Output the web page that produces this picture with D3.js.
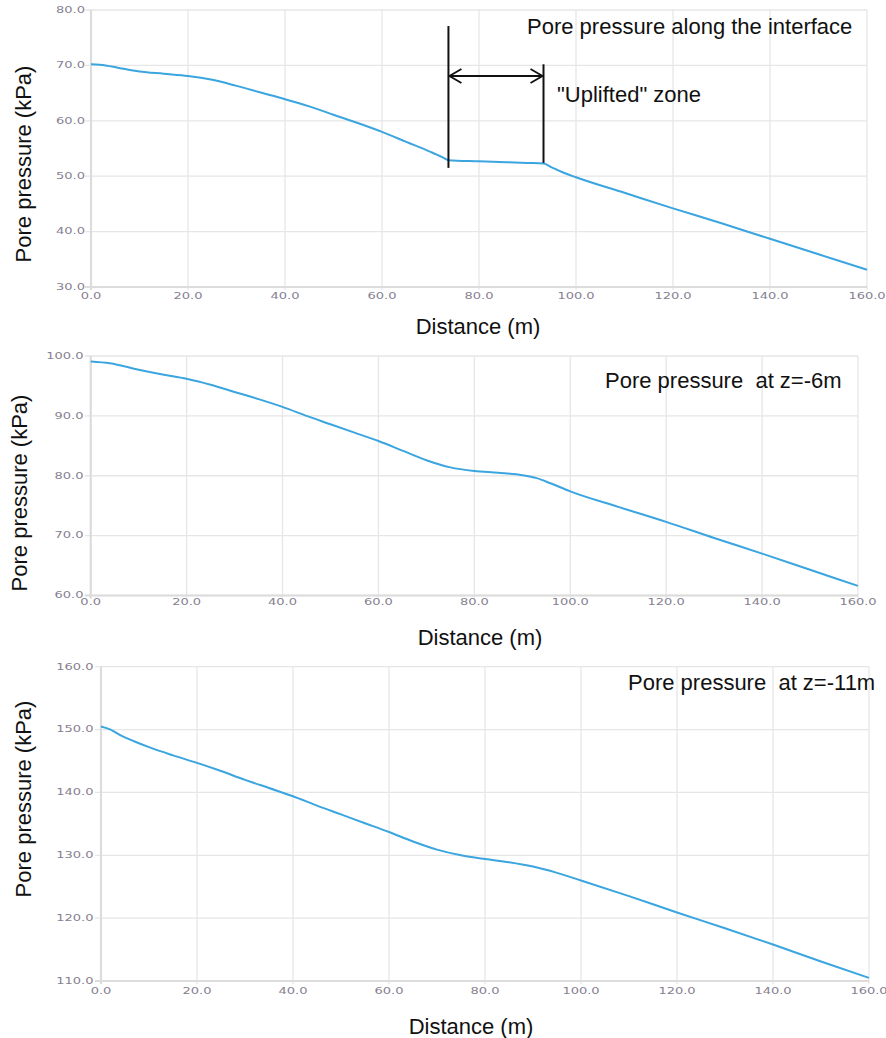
<!DOCTYPE html>
<html>
<head>
<meta charset="utf-8">
<script src="https://cdn.jsdelivr.net/npm/d3@7"></script>
<style>
  html, body { margin: 0; padding: 0; background: #fff; }
  svg { display: block; }
  .tick-label { font-family: "DejaVu Sans", Verdana, sans-serif; font-size: 10px; fill: #858090; }
  .axis-title, .note { font-family: "Liberation Sans", Arial, sans-serif; font-size: 22px; fill: #111; }
</style>
</head>
<body>
<script>
// Distance along the section (m) and pore pressure (kPa) for each profile
const interfaceDistance = [0, 3, 6, 10, 15, 20, 25, 30, 35, 40, 45, 50, 55, 60, 65, 70, 72.3, 73.7, 80, 90, 93.3, 95, 97, 100, 110, 120, 130, 140, 150, 160];
const interfacePressure = [70.2, 70.0, 69.5, 68.9, 68.5, 68.1, 67.4, 66.3, 65.1, 63.9, 62.6, 61.1, 59.6, 58.0, 56.2, 54.4, 53.5, 52.9, 52.7, 52.4, 52.3, 51.6, 50.8, 49.8, 47.0, 44.2, 41.5, 38.7, 35.9, 33.1];

const z6Distance = [0, 4, 10, 15, 20, 25, 30, 35, 40, 45, 50, 55, 60, 65, 70, 75, 80, 85, 90, 93, 96, 100, 110, 120, 130, 140, 150, 160];
const z6Pressure = [99.1, 98.8, 97.7, 96.9, 96.2, 95.2, 94.0, 92.8, 91.5, 90.0, 88.6, 87.2, 85.8, 84.2, 82.6, 81.4, 80.8, 80.5, 80.1, 79.6, 78.7, 77.4, 74.8, 72.3, 69.6, 67.0, 64.3, 61.6];

const z11Distance = [0, 2, 4, 7, 10, 15, 20, 25, 30, 35, 40, 45, 50, 55, 60, 65, 70, 75, 80, 85, 90, 95, 100, 110, 120, 130, 140, 150, 160];
const z11Pressure = [150.5, 150.0, 149.1, 148.1, 147.2, 145.9, 144.7, 143.4, 142.0, 140.7, 139.4, 137.9, 136.5, 135.1, 133.7, 132.2, 130.9, 130.0, 129.4, 128.9, 128.2, 127.2, 126.0, 123.5, 120.9, 118.4, 115.8, 113.1, 110.5];

// Tick values
const distanceTicks = [0, 20, 40, 60, 80, 100, 120, 140, 160];
const interfaceTicks = [30, 40, 50, 60, 70, 80];
const z6Ticks = [60, 70, 80, 90, 100];
const z11Ticks = [110, 120, 130, 140, 150, 160];

// Uplifted zone bracket (distance, pressure)
const zoneBounds = [73.7, 93.3];
const zoneTopPressure = [77.1, 70.2];
const zoneBottomPressure = [51.5, 52.4];
const zoneArrowPressure = 68.1;

const titles = ["Pore pressure along the interface", "Pore pressure  at z=-6m", "Pore pressure  at z=-11m"];

const W = 886, H = 1038;
const svg = d3.select("body").append("svg").attr("width", W).attr("height", H);

const panels = [
  { xs: interfaceDistance, ys: interfacePressure, yTicks: interfaceTicks, yDomain: [30, 80],
    x0: 91, x1: 867, yTop: 10, yBot: 287, yLabelX: 85, xLabelDy: 9,
    yTitle: { x: 23, y: 164 }, xTitle: { x: 478, y: 334 },
    note: { text: titles[0], x: 527, y: 34 } },
  { xs: z6Distance, ys: z6Pressure, yTicks: z6Ticks, yDomain: [60, 100],
    x0: 90.7, x1: 858, yTop: 356, yBot: 595.5, yLabelX: 83.5, xLabelDy: 7,
    yTitle: { x: 19, y: 493 }, xTitle: { x: 480, y: 645 },
    note: { text: titles[1], x: 605, y: 388 } },
  { xs: z11Distance, ys: z11Pressure, yTicks: z11Ticks, yDomain: [110, 160],
    x0: 101, x1: 869, yTop: 666.7, yBot: 981, yLabelX: 93.5, xLabelDy: 10.5,
    yTitle: { x: 23, y: 799 }, xTitle: { x: 471, y: 1034 },
    note: { text: titles[2], x: 628, y: 690 } }
];

const fmt = d3.format(".1f");
const gridColor = "#e6e6e6";
const axisColor = "#dcdcdc";
const lineColor = "#3ba5e0";
const labelStretch = 1.3;

panels.forEach((p, i) => {
  const x = d3.scaleLinear().domain([0, 160]).range([p.x0, p.x1]);
  const y = d3.scaleLinear().domain(p.yDomain).range([p.yBot, p.yTop]);
  const g = svg.append("g");

  // grid: horizontal lines at each pressure tick, extended slightly left as tick marks
  g.selectAll("line.hgrid").data(p.yTicks).join("line")
    .attr("x1", p.x0 - 6).attr("x2", p.x1)
    .attr("y1", d => y(d)).attr("y2", d => y(d))
    .attr("stroke", gridColor).attr("stroke-width", 1.3);

  // grid: vertical lines at each distance tick
  g.selectAll("line.vgrid").data(distanceTicks).join("line")
    .attr("x1", d => x(d)).attr("x2", d => x(d))
    .attr("y1", p.yTop).attr("y2", p.yBot + 3)
    .attr("stroke", gridColor).attr("stroke-width", 1.3);

  // axis lines
  g.append("line").attr("x1", p.x0).attr("x2", p.x0).attr("y1", p.yTop).attr("y2", p.yBot + 3)
    .attr("stroke", axisColor).attr("stroke-width", 2.2);
  g.append("line").attr("x1", p.x0 - 6).attr("x2", p.x1).attr("y1", p.yBot).attr("y2", p.yBot)
    .attr("stroke", axisColor).attr("stroke-width", 2);

  // tick labels (wide, flat numerals)
  g.selectAll("text.ylab").data(p.yTicks).join("text")
    .attr("class", "tick-label")
    .attr("transform", d => `translate(${p.yLabelX},${y(d)}) scale(${labelStretch},0.92)`)
    .attr("text-anchor", "end").attr("dominant-baseline", "central")
    .text(d => fmt(d));
  g.selectAll("text.xlab").data(distanceTicks).join("text")
    .attr("class", "tick-label")
    .attr("transform", d => `translate(${x(d)},${p.yBot + p.xLabelDy}) scale(${labelStretch},0.92)`)
    .attr("text-anchor", "middle").attr("dominant-baseline", "central")
    .text(d => fmt(d));

  // pressure profile
  const pts = p.xs.map((d, k) => [d, p.ys[k]]);
  g.append("path").datum(pts)
    .attr("fill", "none").attr("stroke", lineColor).attr("stroke-width", 2)
    .attr("stroke-linejoin", "round")
    .attr("d", d3.line().x(d => x(d[0])).y(d => y(d[1])).curve(d3.curveMonotoneX));

  // axis titles
  g.append("text").attr("class", "axis-title")
    .attr("x", p.xTitle.x).attr("y", p.xTitle.y).attr("text-anchor", "middle")
    .text("Distance (m)");
  g.append("text").attr("class", "axis-title")
    .attr("transform", `translate(${p.yTitle.x},${p.yTitle.y}) rotate(-90)`)
    .attr("text-anchor", "middle").attr("dominant-baseline", "central")
    .text("Pore pressure (kPa)");

  // in-plot caption
  g.append("text").attr("class", "note").attr("xml:space", "preserve")
    .style("white-space", "pre")
    .attr("x", p.note.x).attr("y", p.note.y).text(p.note.text);

  if (i === 0) {
    const a = svg.append("g").attr("stroke", "#111").attr("stroke-width", 2).attr("fill", "none");
    // bracket lines bounding the zone
    a.selectAll("line.bound").data(zoneBounds).join("line")
      .attr("x1", d => x(d)).attr("x2", d => x(d))
      .attr("y1", (d, k) => y(zoneTopPressure[k]))
      .attr("y2", (d, k) => y(zoneBottomPressure[k]));
    // double-headed arrow across the zone
    const ay = y(zoneArrowPressure);
    const xa = x(zoneBounds[0]), xb = x(zoneBounds[1]);
    a.append("line").attr("x1", xa).attr("x2", xb).attr("y1", ay).attr("y2", ay);
    a.append("path").attr("stroke-width", 1.8)
      .attr("d", `M${xa + 13},${ay - 7}L${xa + 1},${ay}L${xa + 13},${ay + 7}`);
    a.append("path").attr("stroke-width", 1.8)
      .attr("d", `M${xb - 13},${ay - 7}L${xb - 1},${ay}L${xb - 13},${ay + 7}`);
    svg.append("text").attr("class", "note")
      .attr("x", 557).attr("y", 102).text("\"Uplifted\" zone");
  }
});
</script>
</body>
</html>
